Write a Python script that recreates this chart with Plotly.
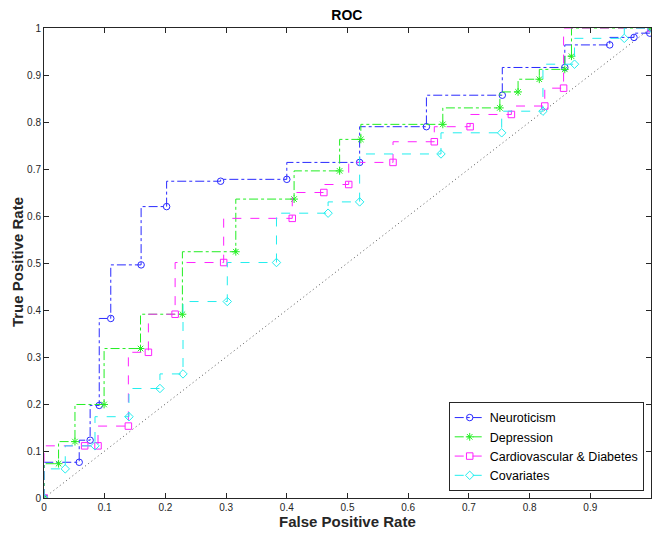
import plotly.graph_objects as go

# ---- data ----
neuro_fpr = [0, 0.058, 0.076, 0.091, 0.110, 0.160, 0.202, 0.291, 0.400, 0.520, 0.630, 0.755, 0.858, 0.932, 0.972, 0.998, 1.0]
neuro_tpr = [0, 0.076, 0.123, 0.197, 0.382, 0.496, 0.620, 0.674, 0.678, 0.714, 0.790, 0.857, 0.916, 0.964, 0.980, 0.989, 1.0]

dep_fpr = [0, 0.024, 0.051, 0.099, 0.159, 0.228, 0.316, 0.412, 0.487, 0.522, 0.657, 0.751, 0.781, 0.816, 0.858, 0.869, 1.0]
dep_tpr = [0, 0.073, 0.120, 0.199, 0.318, 0.391, 0.524, 0.636, 0.696, 0.763, 0.795, 0.830, 0.864, 0.891, 0.912, 0.940, 1.0]

cvd_fpr = [0, 0.067, 0.089, 0.139, 0.172, 0.216, 0.296, 0.409, 0.461, 0.502, 0.575, 0.643, 0.702, 0.770, 0.825, 0.856, 1.0]
cvd_tpr = [0, 0.111, 0.111, 0.153, 0.310, 0.391, 0.501, 0.595, 0.650, 0.667, 0.714, 0.758, 0.790, 0.816, 0.834, 0.872, 1.0]

cov_fpr = [0, 0.035, 0.084, 0.140, 0.191, 0.229, 0.302, 0.383, 0.468, 0.520, 0.654, 0.754, 0.822, 0.874, 0.956, 1.0]
cov_tpr = [0, 0.062, 0.111, 0.173, 0.233, 0.264, 0.418, 0.501, 0.606, 0.630, 0.732, 0.777, 0.823, 0.923, 0.978, 1.0]

chance = [0, 1]

series_names = ["Neuroticism", "Depression", "Cardiovascular & Diabetes", "Covariates"]
tick_vals = [0, 0.1, 0.2, 0.3, 0.4, 0.5, 0.6, 0.7, 0.8, 0.9, 1]
tick_text = ["0", "0.1", "0.2", "0.3", "0.4", "0.5", "0.6", "0.7", "0.8", "0.9", "1"]

FONT = "Liberation Sans, Arial, sans-serif"
AX = "#262626"

fig = go.Figure()

fig.add_trace(go.Scatter(x=chance, y=chance, mode="lines",
                         line=dict(color="#555555", width=1, dash="1px,3px"),
                         showlegend=False, hoverinfo="skip"))

styles = [
    (neuro_fpr, neuro_tpr, "#2a2aff", "dashdot", "circle-open"),
    (dep_fpr, dep_tpr, "#22ee22", "dashdot", "asterisk-open"),
    (cvd_fpr, cvd_tpr, "#ff22ff", "dash", "square-open"),
    (cov_fpr, cov_tpr, "#22eeee", "dash", "diamond-open"),
]
for name, (xs, ys, col, dash, sym) in zip(series_names, styles):
    fig.add_trace(go.Scatter(
        x=xs, y=ys, name=name, mode="lines+markers",
        line=dict(color=col, width=1, dash=dash, shape="vh"),
        marker=dict(symbol=sym, size=6.5, color=col, line=dict(color=col, width=1)),
    ))

axis_common = dict(
    range=[0, 1], tickvals=tick_vals, ticktext=tick_text,
    ticks="inside", ticklen=5, tickcolor=AX, tickwidth=1,
    showline=True, linecolor=AX, linewidth=1, mirror="ticks",
    showgrid=False, zeroline=False, automargin=False,
    tickfont=dict(family=FONT, size=10, color=AX),
)

fig.update_layout(
    width=652, height=534, autosize=False,
    margin=dict(l=44, r=1, t=28, b=36),
    paper_bgcolor="white", plot_bgcolor="white",
    title=dict(text="<b>ROC</b>", x=0.532, xanchor="center", y=0.972, yanchor="middle",
               font=dict(family=FONT, size=14, color="#000000")),
    xaxis=dict(**axis_common),
    yaxis=dict(**axis_common),
    legend=dict(x=0.988, xanchor="right", y=0.015, yanchor="bottom",
                bgcolor="white", bordercolor=AX, borderwidth=1,
                font=dict(family=FONT, size=12.5, color="#000000"),
                tracegroupgap=0, itemwidth=30),
    showlegend=True,
    annotations=[
        dict(text="<b>False Positive Rate</b>", xref="paper", yref="paper",
             x=0.5, y=-0.051, xanchor="center", yanchor="middle", showarrow=False,
             font=dict(family=FONT, size=15, color=AX)),
        dict(text="<b>True Positive Rate</b>", xref="paper", yref="paper",
             x=-0.0445, y=0.502, xanchor="center", yanchor="middle", showarrow=False,
             textangle=-90, font=dict(family=FONT, size=15, color=AX)),
    ],
)

post = ("document.body.style.margin='0';document.body.style.overflow='hidden';"
        "var gd=document.getElementById('{plot_id}');"
        "Plotly.relayout(gd,{width:652,height:534});")
fig.write_html("out.html", config={"responsive": False, "displayModeBar": False},
               post_script=post)
